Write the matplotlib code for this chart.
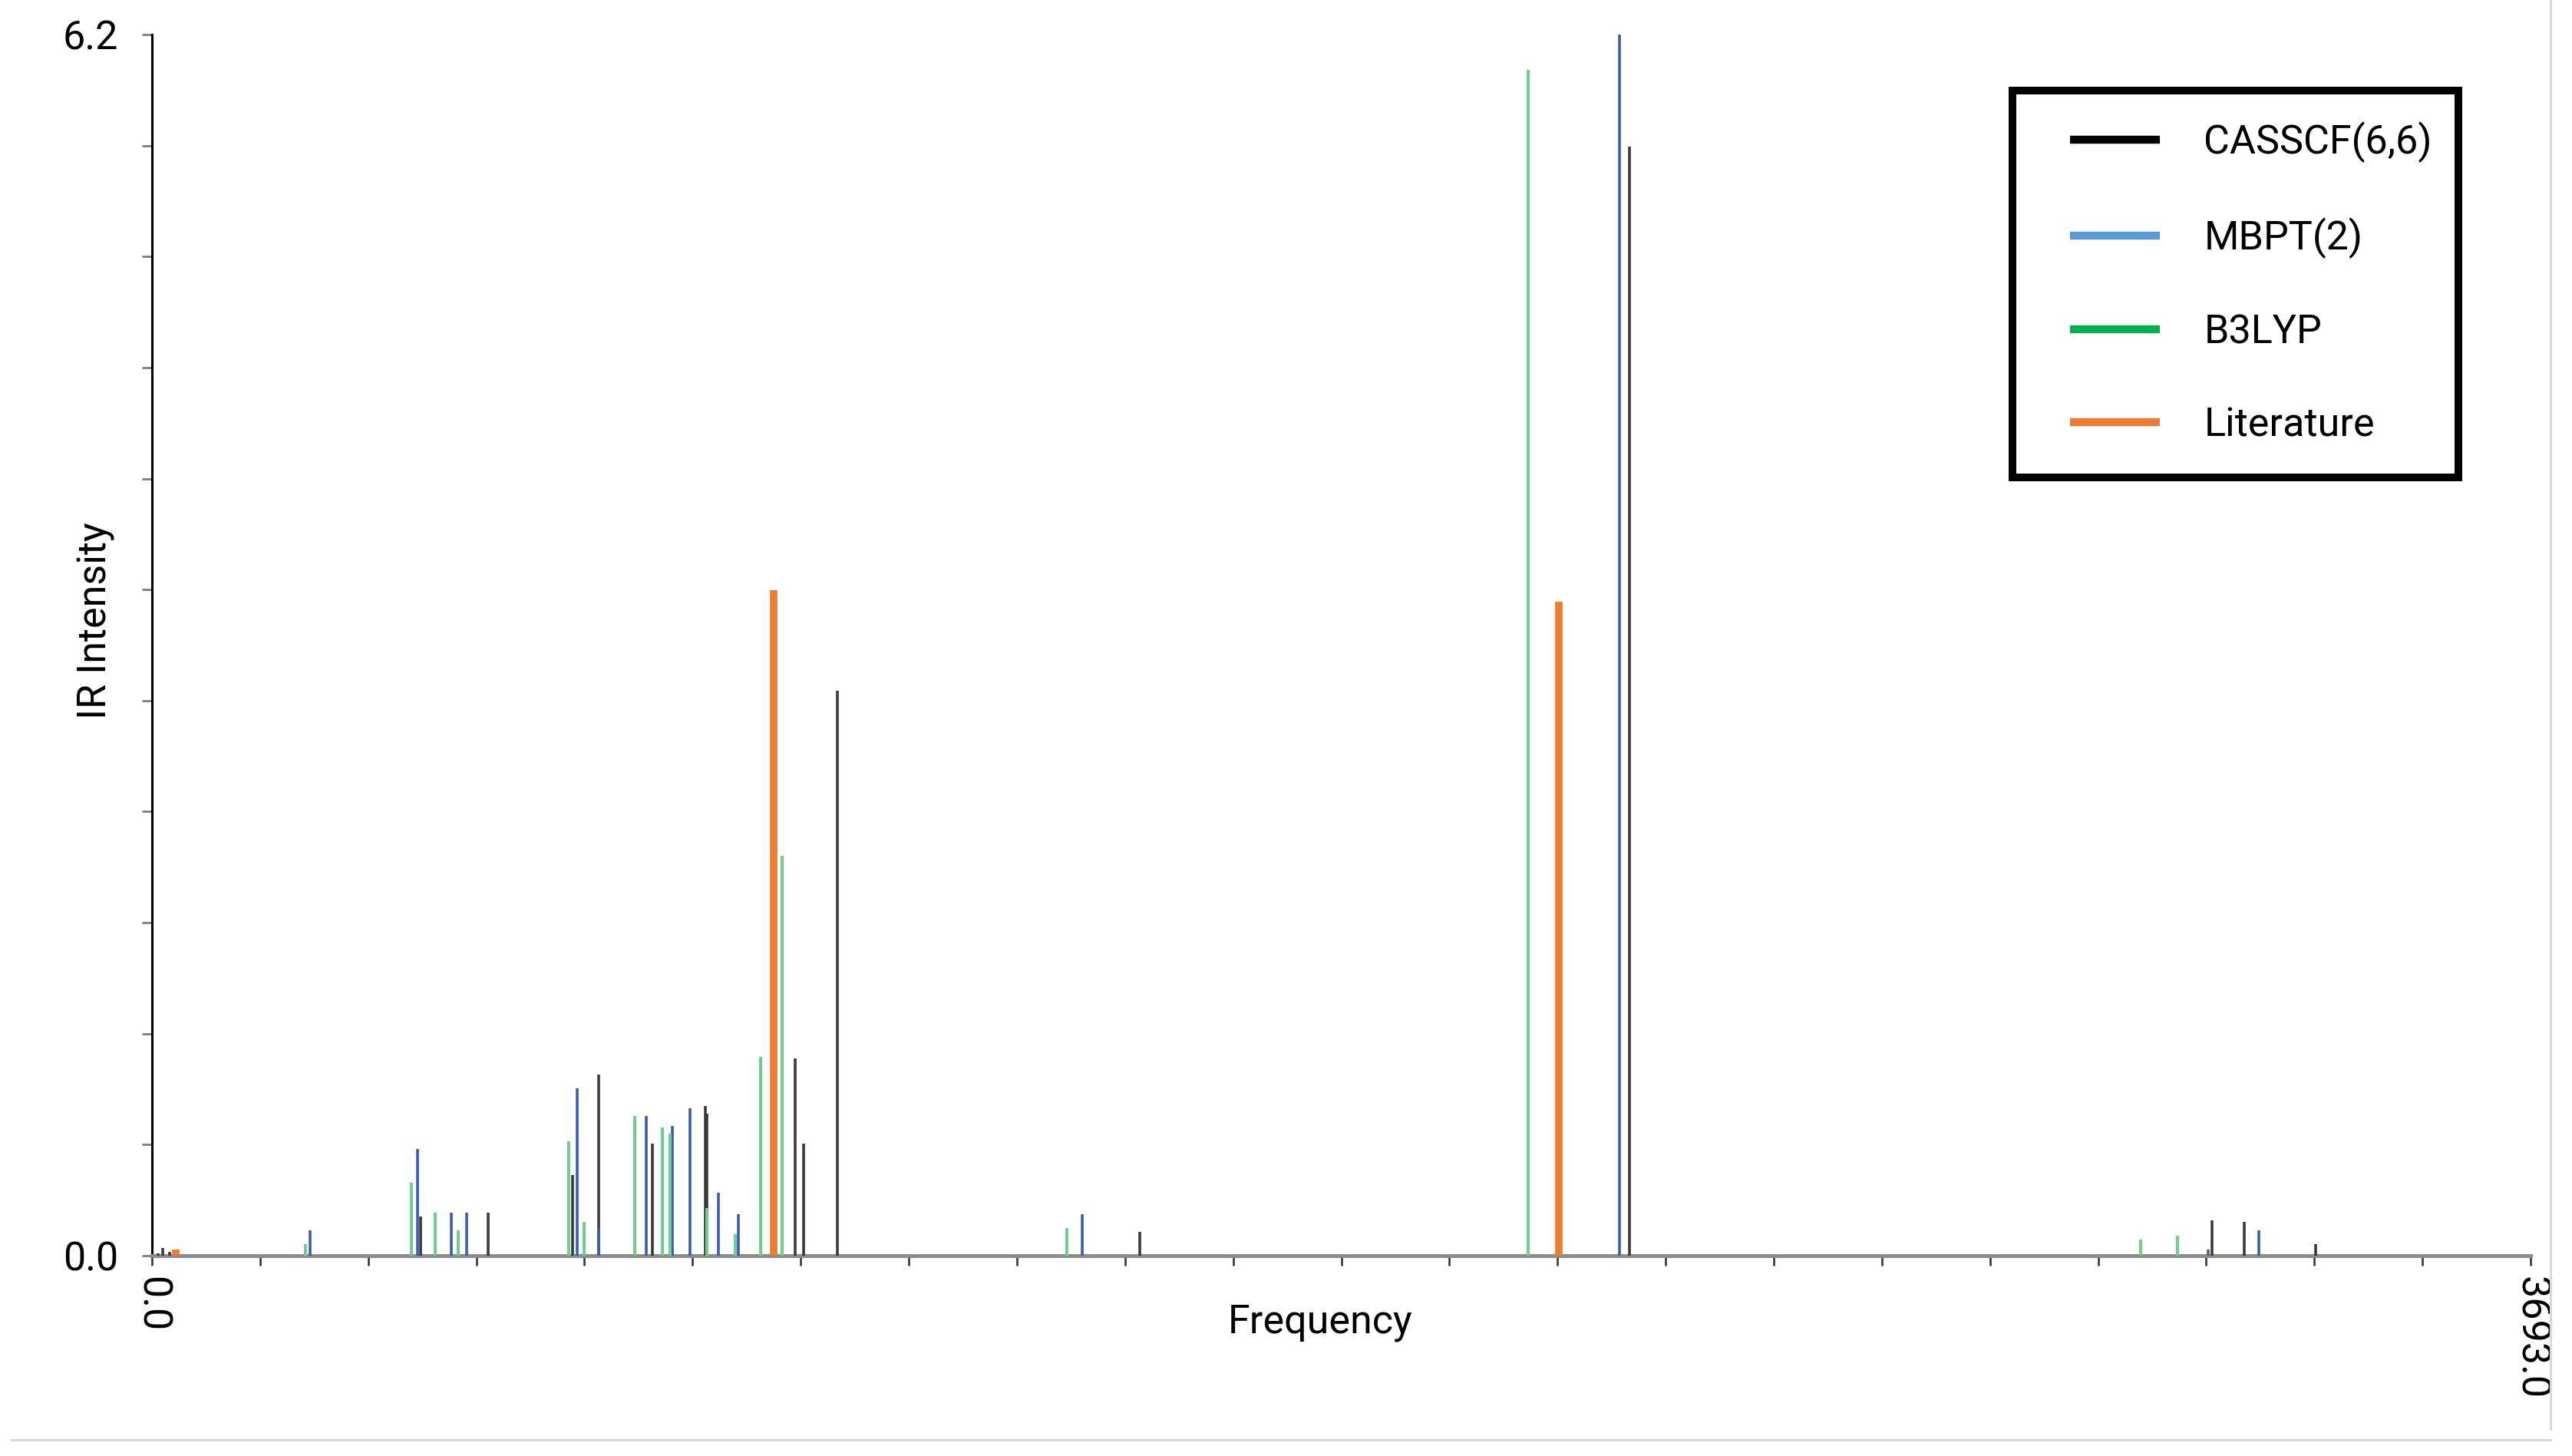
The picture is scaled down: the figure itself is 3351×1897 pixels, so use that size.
import matplotlib
matplotlib.use("Agg")
import matplotlib.pyplot as plt
import numpy as np
from matplotlib.lines import Line2D
from matplotlib.patches import Rectangle

# stick spectra (frequency, IR intensity)
casscf_freq = [10, 17, 27, 417, 522, 653, 694, 777, 859, 862, 999, 1012, 1064, 1534, 2294, 3198, 3248, 3359]
casscf_int = [0.01, 0.04, 0.02, 0.20, 0.22, 0.41, 0.92, 0.57, 0.76, 0.72, 1.00, 0.57, 2.87, 0.12, 5.63, 0.18, 0.17, 0.06]

mbpt_freq = [246, 412, 465, 489, 660, 694, 768, 808, 835, 879, 910, 1444, 2279, 3192, 3271]
mbpt_int = [0.13, 0.54, 0.22, 0.22, 0.85, 0.14, 0.71, 0.66, 0.75, 0.32, 0.21, 0.21, 6.20, 0.03, 0.13]

b3lyp_freq = [238, 403, 440, 475, 647, 671, 749, 792, 804, 861, 906, 945, 978, 1420, 2137, 3088, 3145]
b3lyp_int = [0.06, 0.37, 0.22, 0.13, 0.58, 0.17, 0.71, 0.65, 0.62, 0.24, 0.11, 1.01, 2.03, 0.14, 6.02, 0.08, 0.10]

lit_freq = [37, 965, 2184]
lit_int = [0.03, 3.38, 3.32]

labels = ["CASSCF(6,6)", "MBPT(2)", "B3LYP", "Literature"]
legend_colors = ["#000000", "#5B9BD5", "#00B050", "#ED7D31"]

x_max = 3693.0
y_max = 6.2

plt.rcParams['font.family'] = ['Roboto', 'DejaVu Sans']
FS = 37.5

W, H = 3351, 1897
fig = plt.figure(figsize=(W / 100, H / 100), dpi=100)
ax = fig.add_axes([198 / W, 1 - 1636 / H, (3297 - 198) / W, (1636 - 45) / H])

ax.vlines(casscf_freq, 0, casscf_int, color="#3a3a3a", lw=2.6, zorder=3)
ax.vlines(mbpt_freq, 0, mbpt_int, color="#3a5cb4", lw=2.6, zorder=3)
ax.vlines(b3lyp_freq, 0, b3lyp_int, color="#6dd08c", lw=2.9, zorder=3)
ax.vlines(lit_freq, 0, lit_int, color="#ED7D31", lw=7.0, zorder=3)

ax.set_xlim(0, x_max)
ax.set_ylim(0, y_max)

xt = np.linspace(0, x_max, 23)
ax.set_xticks(xt)
ax.set_xticklabels(["0.0"] + [""] * 21 + ["3693.0"], rotation=270, fontsize=FS)
yt = np.linspace(0, y_max, 12)
ax.set_yticks(yt)
ax.set_yticklabels(["0.0"] + [""] * 10 + ["6.2"], fontsize=FS)

ax.tick_params(axis="x", direction="out", length=9.5, width=2, color="#404040", pad=10)
ax.tick_params(axis="y", direction="out", length=9.5, width=2, color="#7f7f7f", pad=22)

for s in ["top", "right"]:
    ax.spines[s].set_visible(False)
ax.spines["left"].set_color("#000000")
ax.spines["left"].set_linewidth(2.2)
ax.spines["bottom"].set_color("#8c8c8c")
ax.spines["bottom"].set_linewidth(3.6)

ax.set_xlabel("Frequency", fontsize=FS)
ax.xaxis.set_label_coords((1720 - 198) / 3099, (1636 - 1698) / 1591)
ax.set_ylabel("IR Intensity", fontsize=FS)
ax.yaxis.set_label_coords((150 - 198) / 3099, (1636 - 809) / 1591)

# legend box drawn by hand, entries on top of it
fig.add_artist(Rectangle((2622 / W, 1 - 622 / H), (3203 - 2622) / W, (622 - 118) / H,
                         transform=fig.transFigure, facecolor="white", edgecolor="black",
                         linewidth=7.2, zorder=4))
handles = [Line2D([], [], color=c, lw=7.5, solid_capstyle="butt") for c in legend_colors]
fig.legend(handles, labels, loc="upper left", bbox_to_anchor=(2697 / W, 1 - 158 / H),
           frameon=False, fontsize=FS, borderpad=0, borderaxespad=0,
           handlelength=2.25, handletextpad=1.1, labelspacing=1.37).set_zorder(5)

# chart area border
fig.add_artist(Line2D([3323 / W, 3323 / W], [1.0, 1 - 1862 / H], transform=fig.transFigure,
                      color="#d9d9d9", lw=2.2))
fig.add_artist(Line2D([15 / W, 3323 / W], [1 - 1876 / H, 1 - 1876 / H], transform=fig.transFigure,
                      color="#d9d9d9", lw=2.2))

fig.savefig("out.png", dpi=100)
